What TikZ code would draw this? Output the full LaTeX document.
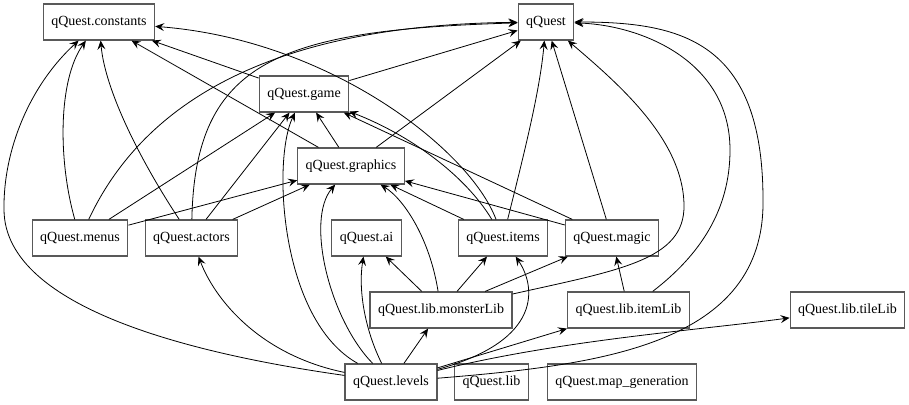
\documentclass[tikz,border=0pt]{standalone}
\usepackage{fontspec}
\setmainfont{Liberation Serif}
\usetikzlibrary{arrows.meta}
\tikzset{
    module/.style={rectangle, draw=black!65, line width=1.2pt, fill=white, font=\fontsize{14}{16}\selectfont, inner xsep=8pt, minimum height=36pt},
    dep/.style={->, line width=0.8pt}
}

\begin{document}
\begin{tikzpicture}[>={Stealth[length=9pt,width=8pt,inset=3.5pt]}, x=1pt, y=-1pt]
\useasboundingbox (0,0) rectangle (909,404);

% Top row
\node[module] (constants) at (99,22) {qQuest.constants};
\node[module] (qQuest) at (546,22) {qQuest};

% Middle
\node[module] (game) at (304,94) {qQuest.game};
\node[module] (graphics) at (351,166) {qQuest.graphics};

% Row of modules
\node[module] (menus) at (80,238) {qQuest.menus};
\node[module] (actors) at (191.5,238) {qQuest.actors};
\node[module] (ai) at (366.5,238) {qQuest.ai};
\node[module] (items) at (503,238) {qQuest.items};
\node[module] (magic) at (612,238) {qQuest.magic};

% Libraries
\node[module] (monsterLib) at (441,310) {qQuest.lib.monsterLib};
\node[module] (itemLib) at (628.5,310) {qQuest.lib.itemLib};
\node[module] (tileLib) at (847.5,310) {qQuest.lib.tileLib};

% Bottom row
\node[module] (levels) at (391,382) {qQuest.levels};
\node[module] (lib) at (491.5,382) {qQuest.lib};
\node[module] (mapgen) at (622,382) {qQuest.map\_generation};

% Straight imports
\foreach \a/\b in {menus/game, menus/graphics, actors/game, actors/graphics,
    game/constants, game/qQuest, graphics/constants, graphics/game, graphics/qQuest,
    items/graphics, magic/game, magic/graphics, magic/qQuest,
    monsterLib/ai, monsterLib/items, monsterLib/magic, itemLib/magic,
    levels/monsterLib, levels/itemLib} {
  \draw[dep] (\a) -- (\b);
}

% Curved imports
\draw[dep] (menus) .. controls (58,160) and (58,80) .. (constants);
\draw[dep] (menus) .. controls (140,110) and (260,25) .. (qQuest);
\draw[dep] (actors) .. controls (140,160) and (105,90) .. (constants);
\draw[dep] (actors) .. controls (195,60) and (280,30) .. (qQuest);
\draw[dep] (items) .. controls (470,150) and (330,40) .. (constants);
\draw[dep] (items) .. controls (465,175) and (410,135) .. (game);
\draw[dep] (items) .. controls (525,150) and (540,90) .. (qQuest);
\draw[dep] (monsterLib) .. controls (430,240) and (405,200) .. (graphics);
\draw[dep] (monsterLib) .. controls (620,270) and (685,260) .. (684,205)
  .. controls (683,140) and (620,85) .. (qQuest);
\draw[dep] (itemLib) .. controls (700,255) and (730,210) .. (730,150)
  .. controls (730,60) and (640,25) .. (qQuest);

% qQuest.levels
\draw[dep] (levels) .. controls (600,365) and (765,345) .. (763,200)
  .. controls (763,40) and (680,22) .. (qQuest);
\draw[dep] (levels) .. controls (560,340) and (700,330) .. (tileLib);
\draw[dep] (levels) .. controls (545,340) and (535,285) .. (items);
\draw[dep] (levels) .. controls (365,330) and (358,290) .. (ai);
\draw[dep] (levels) .. controls (330,320) and (305,220) .. (graphics);
\draw[dep] (levels) .. controls (280,320) and (272,160) .. (game);
\draw[dep] (levels) .. controls (260,355) and (215,300) .. (actors);
\draw[dep] (levels) .. controls (200,355) and (5,310) .. (4,210)
  .. controls (3,150) and (30,85) .. (constants);

\end{tikzpicture}
\end{document}
